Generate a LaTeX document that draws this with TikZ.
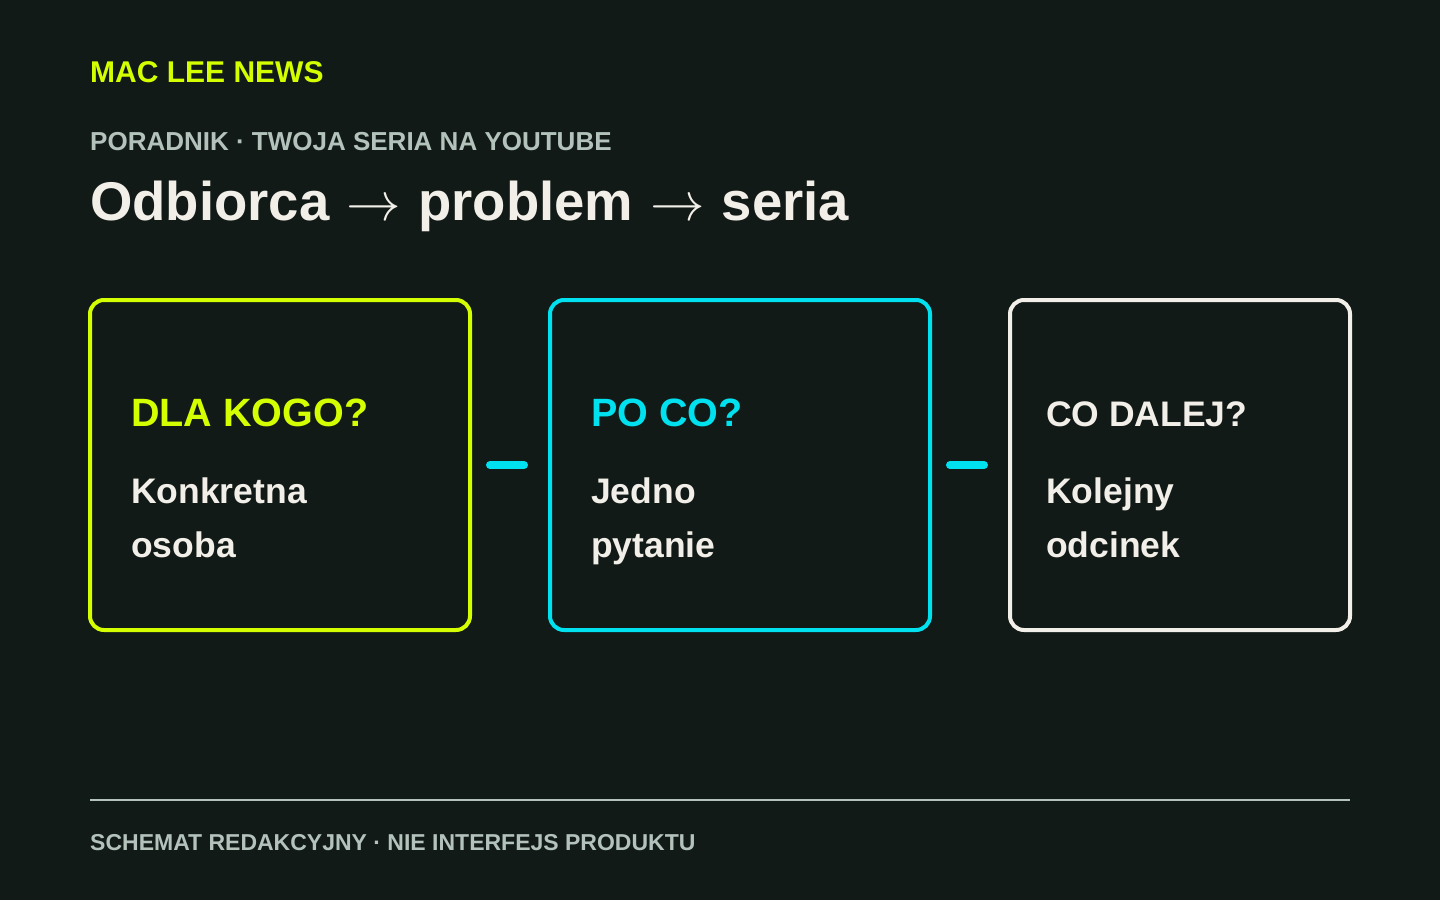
\documentclass[tikz,border=0pt]{standalone}
\usepackage{fix-cm}
\usepackage{fontspec}
\setmainfont{Liberation Sans}
\usepackage{tikz}
\usetikzlibrary{positioning}

\definecolor{tlo}{HTML}{111A17}
\definecolor{limonka}{HTML}{D4FF00}
\definecolor{turkus}{HTML}{00E1F0}
\definecolor{krem}{HTML}{F2EFE9}
\definecolor{szary}{HTML}{B4C2BC}

\newcommand{\strzalka}{\hspace{2pt}\(\rightarrow\)\hspace{2pt}}

\begin{document}
\begin{tikzpicture}[
x=1pt, y=-1pt,
krok/.style={rectangle, rounded corners=14pt, line width=4pt, minimum height=330pt, outer sep=0pt, inner sep=0pt},
tytul/.style={anchor=base west, inner sep=0pt, font=\bfseries\fontsize{39.5}{39.5}\selectfont},
tresc/.style={anchor=base west, inner sep=0pt, text=krem, font=\bfseries\fontsize{35.5}{35.5}\selectfont},
opis/.style={anchor=base west, inner sep=0pt, text=szary, font=\bfseries\fontsize{26}{26}\selectfont},
lacznik/.style={turkus, line width=8pt, line cap=round, shorten <=20pt, shorten >=26pt}
]
\fill[tlo] (0,0) rectangle (1440,900);
\useasboundingbox (0,0) rectangle (1440,900);

%Nodes
\node[anchor=base west, inner sep=0pt, text=limonka, font=\bfseries\fontsize{30}{30}\selectfont] (marka) at (90,82) {MAC LEE NEWS};
\node[opis]	(dzial)		at (90,150)		{PORADNIK · TWOJA SERIA NA YOUTUBE};
\node[anchor=base west, inner sep=0pt, text=krem, font=\bfseries\fontsize{54.5}{54.5}\selectfont] (naglowek) at (90,220) {Odbiorca \strzalka{} problem \strzalka{} seria};

\node[krok, draw=limonka, minimum width=380pt]	(dla_kogo)	at (280,465)				{};
\node[krok, draw=turkus, minimum width=380pt]	(po_co)		[right= 80pt of dla_kogo]	{};
\node[krok, draw=krem, minimum width=340pt]		(co_dalej)	[right= 80pt of po_co]		{};

\node[tytul, text=limonka]	(dla_kogo_t)	at (131,426)	{DLA KOGO?};
\node[tresc]				(dla_kogo_1)	at (131,503)	{Konkretna};
\node[tresc]				(dla_kogo_2)	at (131,557)	{osoba};
\node[tytul, text=turkus]	(po_co_t)		at (591,426)	{PO CO?};
\node[tresc]				(po_co_1)		at (591,503)	{Jedno};
\node[tresc]				(po_co_2)		at (591,557)	{pytanie};
\node[tresc]				(co_dalej_t)	at (1046,426)	{CO DALEJ?};
\node[tresc]				(co_dalej_1)	at (1046,503)	{Kolejny};
\node[tresc]				(co_dalej_2)	at (1046,557)	{odcinek};

\coordinate (stopka_l) at (90,800);
\coordinate (stopka_p) at (1350,800);
\node[opis, font=\bfseries\fontsize{23}{23}\selectfont]	(stopka)	at (90,850)	{SCHEMAT REDAKCYJNY · NIE INTERFEJS PRODUKTU};

%Lines
\draw[lacznik] (dla_kogo.east)	--	(po_co.west);
\draw[lacznik] (po_co.east)		--	(co_dalej.west);
\draw[szary, line width=2pt] (stopka_l) -- (stopka_p);

\end{tikzpicture}
\end{document}
